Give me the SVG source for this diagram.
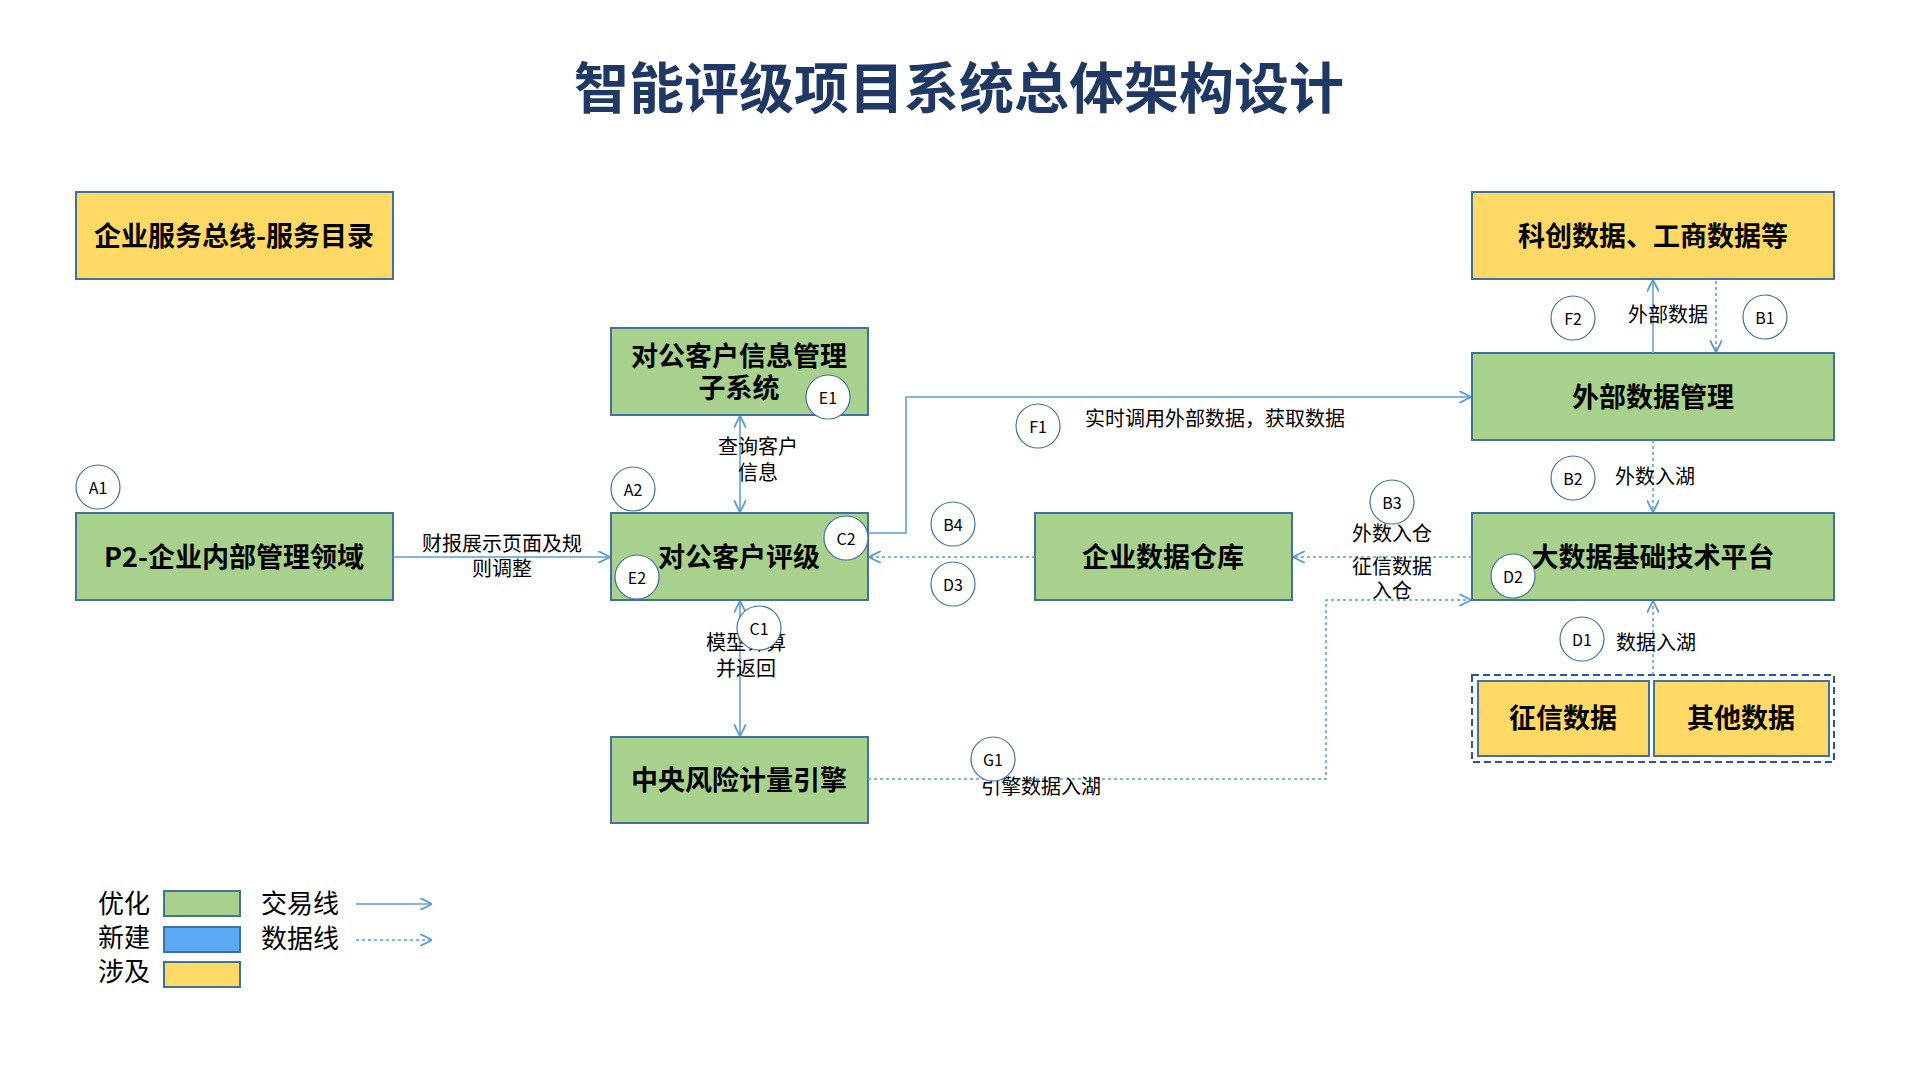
<svg xmlns="http://www.w3.org/2000/svg" width="1920" height="1080" viewBox="0 0 1920 1080">
<style>
text{font-family:"Noto Sans CJK SC","Liberation Sans",sans-serif;fill:#000}
.t{font-size:55px;font-weight:bold;fill:#1f3864;text-anchor:middle}
.b{font-size:27px;font-weight:bold;text-anchor:middle;dominant-baseline:central}
.g{fill:#a9d18e;stroke:#41719c;stroke-width:2}
.y{fill:#ffd966;stroke:#41719c;stroke-width:2}
.l{font-size:20px;text-anchor:middle}
.c circle{fill:#fff;stroke:#41719c;stroke-width:1.2}
.c text{font-size:16px;text-anchor:middle;dominant-baseline:central}
.s{fill:none;stroke:#5b9bd5;stroke-width:1.5}
.d{fill:none;stroke:#5b9bd5;stroke-width:1.5;stroke-dasharray:3 3}
.lg{font-size:26px}
</style>
<defs>
<marker id="a" viewBox="0 0 10 10" refX="9" refY="5" markerWidth="12" markerHeight="12" markerUnits="userSpaceOnUse" orient="auto-start-reverse"><path d="M0,0 L10,5 L0,10" fill="none" stroke="#5b9bd5" stroke-width="1.5"/></marker>
</defs>
<text class="t" x="959" y="108">智能评级项目系统总体架构设计</text>

<g id="n-esb"><rect class="y" x="76" y="192" width="317" height="87"/><text class="b" x="234" y="234">企业服务总线-服务目录</text></g>
<g id="n-kc"><rect class="y" x="1472" y="192" width="362" height="87"/><text class="b" x="1653" y="234">科创数据、工商数据等</text></g>
<g id="n-info"><rect class="g" x="611" y="328" width="257" height="87"/><text class="b" x="739" y="354">对公客户信息管理</text><text class="b" x="739" y="386">子系统</text></g>
<g id="n-ext"><rect class="g" x="1472" y="353" width="362" height="87"/><text class="b" x="1653" y="395">外部数据管理</text></g>
<g id="n-p2"><rect class="g" x="76" y="513" width="317" height="87"/><text class="b" x="234" y="555">P2-企业内部管理领域</text></g>
<g id="n-rate"><rect class="g" x="611" y="513" width="257" height="87"/><text class="b" x="739" y="555">对公客户评级</text></g>
<g id="n-dw"><rect class="g" x="1035" y="513" width="257" height="87"/><text class="b" x="1163" y="555">企业数据仓库</text></g>
<g id="n-bd"><rect class="g" x="1472" y="513" width="362" height="87"/><text class="b" x="1653" y="555">大数据基础技术平台</text></g>
<g id="n-eng"><rect class="g" x="611" y="737" width="257" height="86"/><text class="b" x="739" y="778">中央风险计量引擎</text></g>
<g id="n-src"><rect x="1472" y="675" width="362" height="87" fill="none" stroke="#2f5597" stroke-width="2" stroke-dasharray="7 4"/>
<rect class="y" x="1478" y="681" width="171" height="75"/><text class="b" x="1563" y="716">征信数据</text>
<rect class="y" x="1654" y="681" width="175" height="75"/><text class="b" x="1741" y="716">其他数据</text></g>

<g id="connectors">
<path class="s" d="M393,557 H609" marker-end="url(#a)"/>
<path class="s" d="M740,417 V511" marker-start="url(#a)" marker-end="url(#a)"/>
<path class="s" d="M740,602 V735" marker-start="url(#a)" marker-end="url(#a)"/>
<path class="s" d="M868,533 H906 V397 H1470" marker-end="url(#a)"/>
<path class="s" d="M1653,353 V281" marker-end="url(#a)"/>
<path class="d" d="M1716,281 V351" marker-end="url(#a)"/>
<path class="d" d="M1653,440 V511" marker-end="url(#a)"/>
<path class="d" d="M1472,557 H1294" marker-end="url(#a)"/>
<path class="d" d="M1035,557 H870" marker-end="url(#a)"/>
<path class="d" d="M1653,675 V602" marker-end="url(#a)"/>
<path class="d" d="M868,779 H1326 V600 H1470" marker-end="url(#a)"/>
</g>

<g id="labels">
<text class="l" x="502" y="551">财报展示页面及规</text><text class="l" x="502" y="576">则调整</text>
<text class="l" x="758" y="454">查询客户</text><text class="l" x="758" y="480">信息</text>
<text class="l" x="746" y="650">模型计算</text><text class="l" x="746" y="676">并返回</text>
<text class="l" x="1215" y="426">实时调用外部数据，获取数据</text>
<text class="l" x="1668" y="322">外部数据</text>
<text class="l" x="1655" y="484">外数入湖</text>
<text class="l" x="1392" y="541">外数入仓</text>
<text class="l" x="1392" y="574">征信数据</text><text class="l" x="1392" y="598">入仓</text>
<text class="l" x="1656" y="650">数据入湖</text>
<text class="l" x="1041" y="794">引擎数据入湖</text>
</g>

<g class="c" id="tags">
<g><circle cx="98" cy="487" r="22"/><text x="98" y="487">A1</text></g>
<g><circle cx="633" cy="489" r="22"/><text x="633" y="489">A2</text></g>
<g><circle cx="828" cy="397" r="22"/><text x="828" y="397">E1</text></g>
<g><circle cx="846" cy="538" r="22"/><text x="846" y="538">C2</text></g>
<g><circle cx="637" cy="577" r="22"/><text x="637" y="577">E2</text></g>
<g><circle cx="759" cy="628" r="22"/><text x="759" y="628">C1</text></g>
<g><circle cx="953" cy="524" r="22"/><text x="953" y="524">B4</text></g>
<g><circle cx="953" cy="584" r="22"/><text x="953" y="584">D3</text></g>
<g><circle cx="1038" cy="426" r="22"/><text x="1038" y="426">F1</text></g>
<g><circle cx="1573" cy="318" r="22"/><text x="1573" y="318">F2</text></g>
<g><circle cx="1765" cy="317" r="22"/><text x="1765" y="317">B1</text></g>
<g><circle cx="1573" cy="478" r="22"/><text x="1573" y="478">B2</text></g>
<g><circle cx="1392" cy="502" r="22"/><text x="1392" y="502">B3</text></g>
<g><circle cx="1513" cy="576" r="22"/><text x="1513" y="576">D2</text></g>
<g><circle cx="1582" cy="639" r="22"/><text x="1582" y="639">D1</text></g>
<g><circle cx="993" cy="759" r="22"/><text x="993" y="759">G1</text></g>
</g>

<g id="legend">
<text class="lg" x="98" y="913">优化</text><rect class="g" x="164" y="891" width="76" height="25"/>
<text class="lg" x="98" y="947">新建</text><rect x="164" y="927" width="76" height="25" fill="#5aa9f5" stroke="#41719c" stroke-width="2"/>
<text class="lg" x="98" y="981">涉及</text><rect class="y" x="164" y="962" width="76" height="25"/>
<text class="lg" x="261" y="913">交易线</text><path class="s" d="M356,904 H431" marker-end="url(#a)"/>
<text class="lg" x="261" y="948">数据线</text><path class="d" d="M356,940 H431" marker-end="url(#a)"/>
</g>
</svg>
